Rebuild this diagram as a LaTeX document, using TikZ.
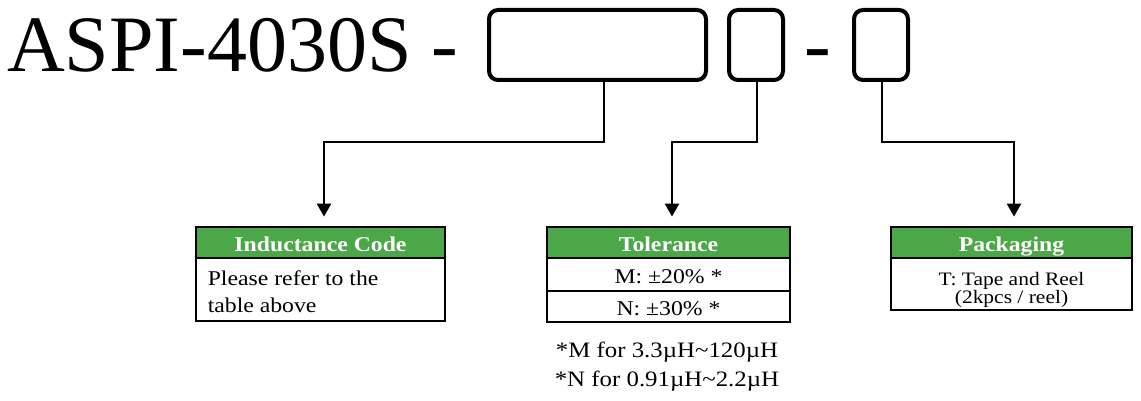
\documentclass[tikz,border=0pt]{standalone}
\usepackage{fontspec}
\setmainfont{Liberation Serif}
\newfontfamily\tablefont[FakeStretch=1.13]{Liberation Serif}
\usetikzlibrary{arrows.meta,positioning}
\definecolor{headGreen}{RGB}{76,167,73}
\tikzset{
  codebox/.style={
    rectangle, rounded corners=9pt, draw=black, line width=4pt,
    inner sep=0pt, minimum height=70pt
  },
  headcell/.style={
    rectangle, draw=black, line width=2.8pt, fill=headGreen, text=white,
    inner sep=0pt, minimum height=31pt, text height=18pt, text depth=0pt,
    font=\tablefont\fontsize{21}{25}\selectfont\bfseries
  },
  rowcell/.style={
    rectangle, draw=black, line width=2.8pt, inner sep=0pt,
    text height=17pt, text depth=0pt,
    font=\tablefont\fontsize{21}{25}\selectfont
  },
  bodytext/.style={inner sep=0pt, align=left, font=\tablefont\fontsize{21}{27}\selectfont},
  notetext/.style={inner sep=0pt, anchor=base, font=\tablefont\fontsize{22}{29}\selectfont},
  pointer/.style={-{Triangle[width=14pt,length=13pt]}, line width=2.4pt, color=black}
}
\begin{document}
\begin{tikzpicture}[x=1pt, y=-1pt]
        \fill[white] (0,0) rectangle (1141,401);
        \useasboundingbox (0,0) rectangle (1141,401);
        % part number and its code fields
        \node[font=\fontsize{80}{90}\selectfont, anchor=base west, inner sep=0pt]
          (title) at (7,72) {ASPI-4030S -};
        \node[codebox, minimum width=217pt] (inductcode) at (597.5,45) {};
        \node[codebox, minimum width=54pt] (tolcode) at (756,45) {};
        \node[font=\fontsize{80}{90}\selectfont, anchor=base, inner sep=0pt]
          (sep) at (818,72) {-};
        \node[codebox, minimum width=54pt] (packcode) at (881,45) {};
        % inductance code
        \node[headcell, minimum width=249pt] (indhead) at (320.5,242.5) {Inductance Code};
        \node[rowcell, minimum width=249pt, minimum height=63pt] (indbody) at (320.5,289.5) {};
        \node[bodytext, anchor=base west] (indtext)
          at ([xshift=13pt,yshift=-56pt]indbody.north west) {Please refer to the\\table above};
        % tolerance
        \node[headcell, minimum width=243pt] (tolhead) at (668.5,242.5) {Tolerance};
        \node[rowcell, minimum width=243pt, minimum height=33pt] (tolm) at (668.5,274.5) {M: ±20\% *};
        \node[rowcell, minimum width=243pt, minimum height=31pt] (toln) at (668.5,306.5) {N: ±30\% *};
        \node[notetext] (notem) at (667,357) {*M for 3.3µH\textasciitilde120µH};
        \node[notetext] (noten) at (667,386) {*N for 0.91µH\textasciitilde2.2µH};
        % packaging
        \node[headcell, minimum width=241pt] (packhead) at (1011.5,242.5) {Packaging};
        \node[rowcell, minimum width=241pt, minimum height=52pt] (packbody) at (1011.5,284) {};
        \node[inner sep=0pt, align=center, anchor=base, font=\tablefont\fontsize{19}{18.3}\selectfont]
          (packtext) at (1011.5,303.3) {T: Tape and Reel\\(2kpcs / reel)};
        % connectors
        \draw[pointer] ([xshift=6.5pt]inductcode.south) -- ++(0,60)
          -| ([xshift=3.5pt,yshift=9pt]indhead.north);
        \draw[pointer] ([xshift=1pt]tolcode.south) -- ++(0,60)
          -| ([xshift=3.5pt,yshift=9pt]tolhead.north);
        \draw[pointer] ([xshift=1pt]packcode.south) -- ++(0,60)
          -| ([xshift=2.5pt,yshift=9pt]packhead.north);
      \end{tikzpicture}
\end{document}
